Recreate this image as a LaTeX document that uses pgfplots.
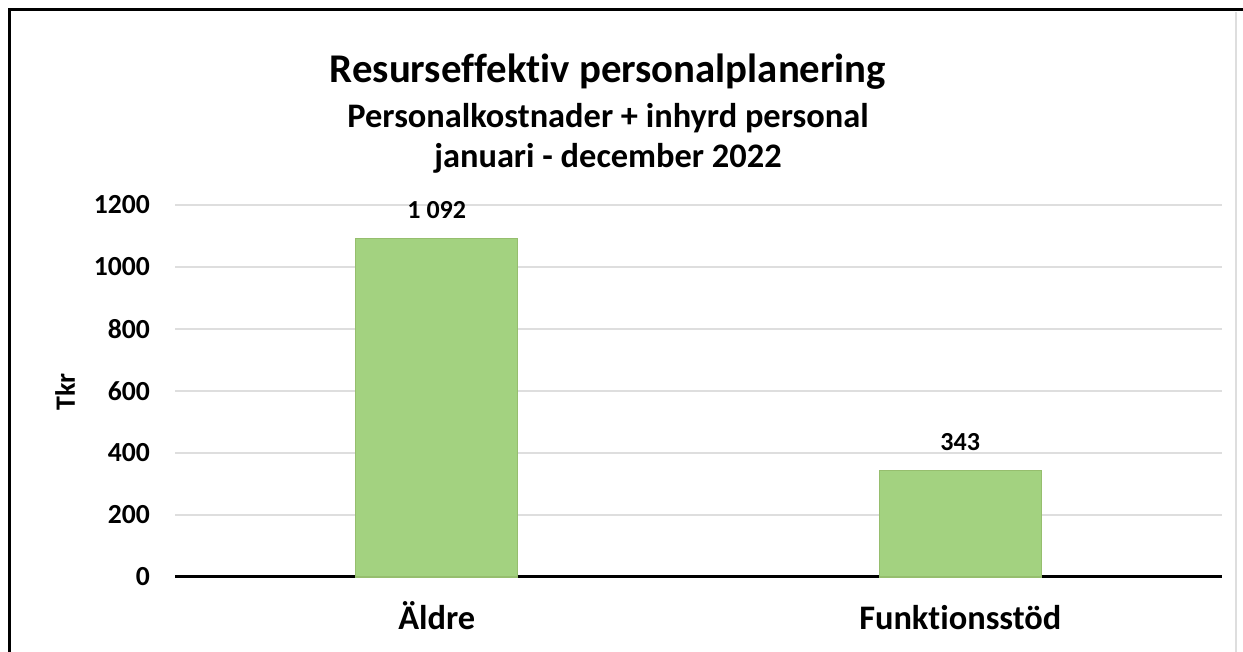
\documentclass[border=0pt]{standalone}
\usepackage{fontspec}
\setmainfont{Carlito}[Ligatures={NoCommon,NoDiscretionary}, Contextuals=NoAlternate]
\usepackage{pgfplots}
\pgfplotsset{compat=1.18}
\definecolor{barfill}{RGB}{163,210,128}
\definecolor{baredge}{RGB}{150,190,110}
\definecolor{gridgray}{RGB}{222,222,222}

\begin{document}
\begin{tikzpicture}
\useasboundingbox (0,0) rectangle (621.5pt,326pt);
% frame
\draw[line width=1.5pt] (4.8pt,0) -- (4.8pt,321pt) -- (621.5pt,321pt);
\draw[gridgray, line width=0.8pt] (618pt,0) -- (618pt,320pt);

\node[font=\bfseries\fontsize{20.4}{22}\selectfont, anchor=base] at (304pt,284.5pt) {Resurseffektiv personalplanering};
\node[font=\bfseries\fontsize{17.2}{19}\selectfont, anchor=base] at (304pt,262pt) {Personalkostnader + inhyrd personal};
\node[font=\bfseries\fontsize{17.2}{19}\selectfont, anchor=base] at (304pt,242pt) {januari - december 2022};
\node[font=\bfseries\fontsize{14}{15}\selectfont, rotate=90] at (32.5pt,130pt) {Tkr};

\begin{axis}[
    scale only axis,
    width=523.5pt, height=186pt,
    at={(87.5pt,37.5pt)}, anchor=south west,
    ybar, bar width=0.31,
    xmin=-0.5, xmax=1.5,
    ymin=0, ymax=1200,
    xtick=data,
    xticklabels={Äldre, Funktionsstöd},
    ytick={0,200,...,1200},
    ymajorgrids,
    grid style={gridgray, line width=0.8pt},
    axis x line=bottom,
    axis y line=left,
    y axis line style={draw=none},
    x axis line style={line width=1.5pt, -},
    major tick length=0pt,
    /pgf/number format/assume math mode=true,
    /pgf/number format/1000 sep={},
    yticklabel style={font=\bfseries\fontsize{13.8}{15}\selectfont, xshift=-9pt},
    xticklabel style={font=\bfseries\fontsize{17.2}{19}\selectfont, anchor=base, yshift=-26.5pt},
    point meta=explicit symbolic,
    nodes near coords,
    nodes near coords style={font=\bfseries\fontsize{13}{14}\selectfont, anchor=base, yshift=10pt},
    clip=false,
]
\addplot[fill=barfill, draw=baredge, line width=0.6pt] coordinates {
    (0,1092) [1 092]
    (1,343) [343]
};
\end{axis}
\end{tikzpicture}
\end{document}
